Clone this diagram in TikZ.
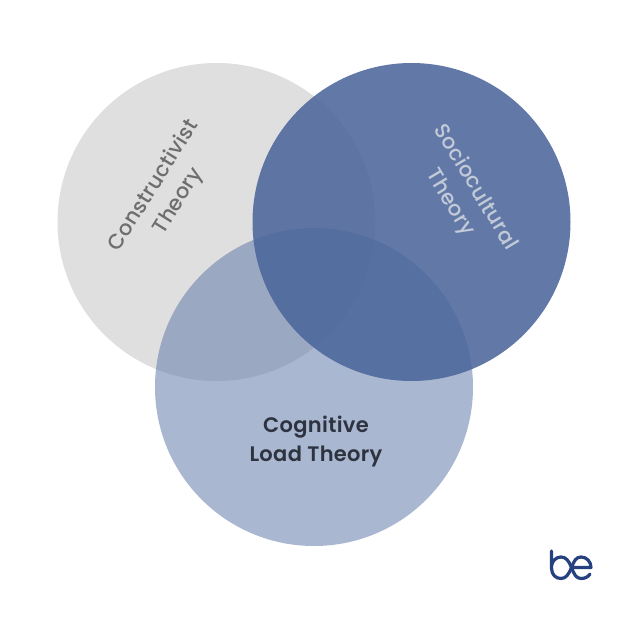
\documentclass[tikz,border=0pt]{standalone}
\usepackage{fontspec}
\setmainfont{Poppins Medium}[LetterSpace=1.5]
\newfontfamily\heavierfont{Poppins SemiBold}[LetterSpace=1.5]
\tikzset{
  venn/.style={circle,minimum size=318pt,inner sep=0pt,outer sep=0pt},
  lab/.style={align=center,font=\fontsize{21}{29}\selectfont},
  logoline/.style={draw=logoblue,line width=3.2pt,line cap=round,line join=round}
}
\definecolor{cgrey}{HTML}{DFDFDF}
\definecolor{cblue}{HTML}{4B669C}
\definecolor{clight}{HTML}{637CAA}
\definecolor{logoblue}{HTML}{26417F}
\definecolor{cdark}{HTML}{2E3340}
\definecolor{cpale}{HTML}{C3CAD7}
\begin{document}
\begin{tikzpicture}[x=1pt,y=-1pt]
\useasboundingbox (0,0) rectangle (627,627);
\fill[white] (0,0) rectangle (627,627);
\node[venn,fill=cgrey] (c1) at (216.5,222) {};
\node[venn,fill=clight,fill opacity=.55] (c3) at (314,387) {};
\node[venn,fill=cblue,fill opacity=.87] (c2) at (411.5,222) {};
\node[lab,text=black!57,rotate=58] (t1) at (166.5,193.5) {Constructivist\\Theory};
\node[lab,text=cpale,rotate=-59] (t2) at (462.5,195) {Sociocultural\\Theory};
\node[lab,text=cdark,font=\fontsize{21}{29}\selectfont\heavierfont] (t3) at (316,442) {Cognitive\\Load Theory};
\draw[logoline] (551.5,551) -- (551.5,568) .. controls (551.5,575) and (556,578.5) .. (561,578.5)
  .. controls (566,578.5) and (569,574) .. (571.5,567.5)
  .. controls (574,561) and (576,557) .. (581,557)
  .. controls (587,557) and (591,562) .. (591,567.5) -- (571.5,567.5);
\draw[logoline] (551.5,566) .. controls (552,561) and (556,557) .. (561,557)
  .. controls (566,557) and (569,561) .. (571.5,567.5)
  .. controls (574,574) and (576,578.5) .. (581,578.5)
  .. controls (585,578.5) and (588,577) .. (590,574);
\end{tikzpicture}
\end{document}
